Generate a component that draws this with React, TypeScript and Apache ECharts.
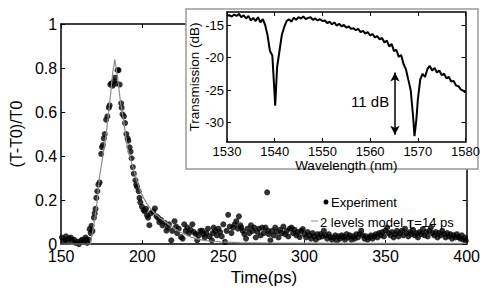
import React, { useEffect, useRef } from "react";
import * as echarts from "echarts";

// Main plot: experiment (time in ps, normalized transmission change)
const expT = [150.5,151.5,152.5,153,154,155,156,157,158,159,160,161,162,163,164,165,165.5,166,167,
167.6,168.2,168.7,169.3,170.2,170.7,171.2,171.7,172.3,173,173.7,174.7,175.2,175.7,176.3,176.9,177.7,178.5,179.4,179.9,180.3,181,181.8,182.5,183.3,184,184.8,185.4,186.1,187,187.3,187.8,188.7,189.4,190.2,191,191.4,192.2,192.8,193.4,194.2,194.8,195.8,196.3,196.8,197.8,198.3,198.8,199.8,200.8,201.5,202.3,203,203.6,204.4,205.3,206.8,207.8,208.8,209.8,210.5,211.5,212.5,213.9,214.9,215.8,216.5,217.9,218.5,219.9,220.9,221.5,222.5,223.9,224.9,225.9,226.8,227.8,228.8,229.8,230.9,231.8,232.9,233.9,234.8,235.8,236.9,237.8,238.5,239.5,240.5,241.5,242.9,243.5,244,245,246,247,248,249,250,251,252,253,254,255,256,257,258,259,259.6,260.5,261,262,263,264,265,266,267,268,269,270,271,272,273,274,275,276,277,277.5,278,279,280,281,282,283,284,285,286,287,288,289,290,291,292,293,294,295,296,297,298,299,300,301,302,303,304,305,306,307,308,309,310,311,312,313,314,315,316,317,318,319,320,321,322,323,324,325,326,327,328,329,330,331,332,333,334,335,336,337,338,339,340,341,342,343,344,345,346,347,348,349,350,351,352,353,354,355,356,357,358,359,360,361,362,363,364,365,366,367,368,369,370,371,372,373,374,375,376,377,378,379,380,381,382,383,384,385,386,387,388,389,390,391,392,393,394,395,396,397,398,399,399.5];
const expV = [0.03,0.015,0.02,0.035,0.01,0.025,0.03,0.015,0.02,0.005,0.01,0.0,0.015,0.02,0.01,0.03,0.02,0.005,0.02,
0.068,0.05,0.083,0.06,0.12,0.14,0.16,0.21,0.24,0.27,0.28,0.41,0.44,0.45,0.48,0.5,0.565,0.58,0.62,0.63,0.725,0.73,0.72,0.74,0.756,0.73,0.79,0.79,0.725,0.64,0.62,0.59,0.58,0.55,0.5,0.48,0.47,0.44,0.42,0.39,0.35,0.32,0.29,0.27,0.26,0.24,0.21,0.19,0.17,0.155,0.148,0.16,0.13,0.12,0.086,0.14,0.148,0.162,0.126,0.119,0.1,0.11,0.085,0.097,0.061,0.075,0.09,0.017,0.06,0.104,0.08,0.05,0.07,0.032,0.025,0.09,0.06,0.075,0.05,0.065,0.09,0.055,0.046,0.017,0.04,0.06,0.061,0.045,0.03,0.05,0.07,0.035,0.017,0.05,0.075,0.06,0.04,0.07,0.055,0.035,0.09,0.01,0.06,0.133,0.08,0.05,0.075,0.09,0.104,0.07,0.126,0.085,0.075,0.06,0.045,0.025,0.07,0.05,0.085,0.06,0.075,0.03,0.055,0.07,0.039,0.075,0.05,0.075,0.235,0.06,0.045,0.017,0.06,0.04,0.075,0.055,0.03,0.065,0.05,0.08,0.045,0.06,0.035,0.07,0.075,0.05,0.065,0.04,0.055,0.032,0.06,0.068,0.045,0.03,0.055,0.04,0.025,0.05,0.035,0.02,0.045,0.03,0.046,0.035,0.061,0.04,0.025,0.045,0.032,0.02,0.03,0.04,0.015,0.035,0.025,0.04,0.032,0.02,0.046,0.03,0.04,0.02,0.035,0.025,0.045,0.03,0.046,0.061,0.04,0.025,0.035,0.02,0.03,0.04,0.025,0.035,0.045,0.03,0.05,0.04,0.055,0.035,0.061,0.075,0.05,0.04,0.055,0.03,0.045,0.06,0.035,0.05,0.061,0.04,0.07,0.05,0.035,0.055,0.045,0.065,0.04,0.05,0.03,0.055,0.045,0.068,0.04,0.055,0.035,0.06,0.075,0.05,0.04,0.055,0.03,0.05,0.04,0.06,0.046,0.03,0.05,0.035,0.045,0.025,0.04,0.03,0.045,0.032,0.025,0.04,0.02,0.03,0.015];

// Two-level model curve
const modelT = [150,160,168,170,171.7,173.7,175.7,177.7,179.7,181.7,183.1,184.8,186.7,188.7,190.8,192.8,194.8,196.8,198.8,200.8,202.8,205,207.8,210.8,213.9,217.9,221.9,225.9,229.9,234,238,243,248,260,280,300,350,400];
const modelV = [0,0,0,0.08,0.162,0.307,0.4,0.496,0.626,0.771,0.839,0.757,0.64,0.553,0.438,0.385,0.336,0.285,0.242,0.21,0.184,0.162,0.14,0.12,0.104,0.08,0.061,0.045,0.032,0.024,0.017,0.013,0.01,0.007,0.005,0.004,0.003,0.003];

// Inset: transmission spectrum
const waveNm = [1530,1530.5,1531,1531.5,1532,1532.5,1533,1533.5,1534,1534.5,1535,1535.5,1536,1536.5,1537,1537.5,1538,1538.5,1539,1539.5,1540,1540.1,1540.5,1541,1541.5,1542,1542.5,1543,1543.5,1544,1544.5,1545,1545.5,1546,1546.5,1547,1547.5,1548,1548.5,1549,1549.5,1550,1550.5,1551,1551.5,1552,1552.5,1553,1553.5,1554,1554.5,1555,1555.5,1556,1556.5,1557,1557.5,1558,1558.5,1559,1559.5,1560,1560.5,1561,1561.5,1562,1562.5,1563,1563.5,1564,1564.5,1565,1565.5,1566,1566.5,1567,1567.5,1568,1568.5,1569,1569.3,1569.7,1570,1570.5,1571,1571.5,1572,1572.5,1573,1573.5,1574,1574.5,1575,1575.5,1576,1576.5,1577,1577.5,1578,1578.5,1579,1579.5,1580];
const transDb = [-13.6,-13.5,-13.7,-13.4,-13.6,-13.3,-13.8,-13.5,-14.0,-13.6,-14.3,-13.9,-14.4,-13.8,-14.6,-14.1,-15.0,-16.6,-19.0,-19.7,-26.0,-27.4,-21.5,-19.0,-16.5,-15.3,-14.4,-14.1,-14.5,-13.9,-14.2,-13.8,-14.0,-13.7,-14.1,-13.9,-13.8,-14.2,-14.0,-14.3,-14.1,-14.4,-14.3,-14.7,-14.5,-14.9,-14.6,-15.1,-14.8,-15.2,-15.0,-15.4,-15.2,-15.6,-15.5,-15.8,-15.6,-16.1,-15.9,-16.3,-16.1,-16.6,-16.4,-16.9,-16.7,-17.2,-17.0,-17.7,-17.4,-18.3,-17.9,-19.0,-18.8,-19.9,-19.6,-21.0,-21.8,-23.4,-25.0,-29.0,-32.1,-29.5,-26.5,-23.4,-22.5,-23.0,-21.8,-21.3,-22.0,-21.6,-22.3,-22.0,-22.7,-22.5,-23.2,-23.0,-23.7,-23.6,-24.3,-24.4,-24.9,-25.1,-25.4];

const mainXTicks = [150, 400, 50];
const mainYTicks = [0, 1, 0.2];
const insetXTicks = [1530, 1580, 10];
const insetYRange = [-33, -13];
const insetYLabels = [-30, -25, -20, -15];
const arrowTop = [1565.2, -22.3];
const arrowBottom = [1565.2, -31.9];
const arrowLabelAt = [1560, -26.8];

const FONT = "'Liberation Sans', Arial, sans-serif";

export default function App() {
  const ref = useRef<HTMLDivElement>(null);
  useEffect(() => {
    if (!ref.current) return;
    const chart = echarts.init(ref.current, null, { renderer: "svg" });
    const axisLine = { show: true, onZero: false, lineStyle: { color: "#000", width: 1.5 } };
    const tickIn = { show: true, inside: true, length: 4, lineStyle: { color: "#000", width: 1 } };
    const plain = (v: number) => String(v);
    const option: any = {
      animation: false,
      backgroundColor: "#fff",
      textStyle: { fontFamily: FONT },
      grid: [
        { left: 54, right: 14, top: 24, bottom: 37, z: 0 },
        { left: 227, right: 16, top: 12, bottom: 149, z: 6 },
      ],
      xAxis: [
        {
          gridIndex: 0, type: "value", position: "bottom", z: 1,
          min: mainXTicks[0], max: mainXTicks[1], interval: mainXTicks[2],
          axisLine, axisTick: tickIn, splitLine: { show: false },
          axisLabel: { color: "#000", fontSize: 16, margin: 4, fontFamily: FONT, formatter: plain },
          name: "Time(ps)", nameLocation: "middle", nameGap: 18,
          nameTextStyle: { color: "#000", fontSize: 17, fontFamily: FONT },
        },
        {
          gridIndex: 0, type: "value", position: "top", z: 1,
          min: mainXTicks[0], max: mainXTicks[1], interval: mainXTicks[2],
          axisLine, axisTick: tickIn, splitLine: { show: false }, axisLabel: { show: false },
        },
        {
          gridIndex: 1, type: "value", position: "bottom", z: 7,
          min: insetXTicks[0], max: insetXTicks[1], interval: insetXTicks[2],
          axisLine, axisTick: tickIn, splitLine: { show: false },
          axisLabel: { color: "#000", fontSize: 13, margin: 3, fontFamily: FONT, formatter: plain },
          name: "Wavelength (nm)", nameLocation: "middle", nameGap: 15,
          nameTextStyle: { color: "#000", fontSize: 13.5, fontFamily: FONT },
        },
        {
          gridIndex: 1, type: "value", position: "top", z: 7,
          min: insetXTicks[0], max: insetXTicks[1], interval: insetXTicks[2],
          axisLine, axisTick: tickIn, splitLine: { show: false }, axisLabel: { show: false },
        },
      ],
      yAxis: [
        {
          gridIndex: 0, type: "value", position: "left", z: 1,
          min: mainYTicks[0], max: mainYTicks[1], interval: mainYTicks[2],
          axisLine, axisTick: tickIn, splitLine: { show: false },
          axisLabel: { color: "#000", fontSize: 16, margin: 4, fontFamily: FONT },
          name: "(T-T0)/T0", nameLocation: "middle", nameGap: 28, nameRotate: 90,
          nameTextStyle: { color: "#000", fontSize: 16, fontFamily: FONT },
        },
        {
          gridIndex: 0, type: "value", position: "right", z: 1,
          min: mainYTicks[0], max: mainYTicks[1], interval: mainYTicks[2],
          axisLine, axisTick: tickIn, splitLine: { show: false }, axisLabel: { show: false },
        },
        {
          gridIndex: 1, type: "value", position: "left", z: 7,
          min: insetYRange[0], max: insetYRange[1],
          axisLine,
          axisTick: { ...tickIn, customValues: insetYLabels },
          splitLine: { show: false },
          axisLabel: { color: "#000", fontSize: 13, margin: 3, fontFamily: FONT, customValues: insetYLabels },
          name: "Transmission (dB)", nameLocation: "middle", nameGap: 23, nameRotate: 90,
          nameTextStyle: { color: "#000", fontSize: 13.5, fontFamily: FONT },
        },
        {
          gridIndex: 1, type: "value", position: "right", z: 7,
          min: insetYRange[0], max: insetYRange[1],
          axisLine,
          axisTick: { ...tickIn, customValues: insetYLabels },
          splitLine: { show: false }, axisLabel: { show: false },
        },
      ],
      series: [
        {
          name: "Experiment", type: "scatter", xAxisIndex: 0, yAxisIndex: 0, z: 2,
          symbol: "circle", symbolSize: 6,
          itemStyle: { color: "#000" },
          data: expT.map((t, i) => [t, expV[i]]),
        },
        {
          name: "2 levels model", type: "line", xAxisIndex: 0, yAxisIndex: 0, z: 3,
          showSymbol: false, symbol: "none",
          lineStyle: { color: "#8c8c8c", width: 1.2 },
          data: modelT.map((t, i) => [t, modelV[i]]),
        },
        {
          name: "Transmission", type: "line", xAxisIndex: 2, yAxisIndex: 2, z: 8,
          showSymbol: false, symbol: "none",
          lineStyle: { color: "#000", width: 2 },
          data: waveNm.map((w, i) => [w, transDb[i]]),
          markLine: {
            silent: true, symbol: ["arrow", "arrow"], symbolSize: [7, 9],
            lineStyle: { color: "#000", width: 1.5, type: "solid" },
            label: { show: false },
            data: [[{ coord: arrowTop }, { coord: arrowBottom }]],
          },
          markPoint: {
            silent: true, symbol: "circle", symbolSize: 0,
            label: { show: true, formatter: "11 dB", color: "#000", fontSize: 15, fontFamily: FONT, position: "inside" },
            data: [{ coord: arrowLabelAt }],
          },
        },
      ],
      graphic: [
        {
          type: "rect", z: 5, silent: true,
          shape: { x: 186, y: 9, width: 292, height: 160 },
          style: { fill: "#fff", stroke: "#9a9a9a", lineWidth: 1.5 },
        },
        { type: "circle", z: 10, shape: { cx: 326, cy: 202, r: 2.5 }, style: { fill: "#000" } },
        {
          type: "text", z: 10, x: 331, y: 202,
          style: { text: "Experiment", fill: "#000", fontSize: 13, fontFamily: FONT, verticalAlign: "middle" },
        },
        {
          type: "line", z: 10, shape: { x1: 311, y1: 221, x2: 318, y2: 221 },
          style: { stroke: "#8c8c8c", lineWidth: 1 },
        },
        {
          type: "text", z: 10, x: 320, y: 222,
          style: {
            text: "2 levels model {t|τ}=14 ps", fill: "#000", fontSize: 13, fontFamily: FONT, verticalAlign: "middle",
            rich: { t: { fontSize: 19, fontFamily: "'Liberation Serif', 'DejaVu Serif', serif", fill: "#000" } },
          },
        },
      ],
    };
    chart.setOption(option);
    return () => chart.dispose();
  }, []);
  return <div ref={ref} style={{ width: 483, height: 291, position: "absolute", left: 0, top: 0 }} />;
}
